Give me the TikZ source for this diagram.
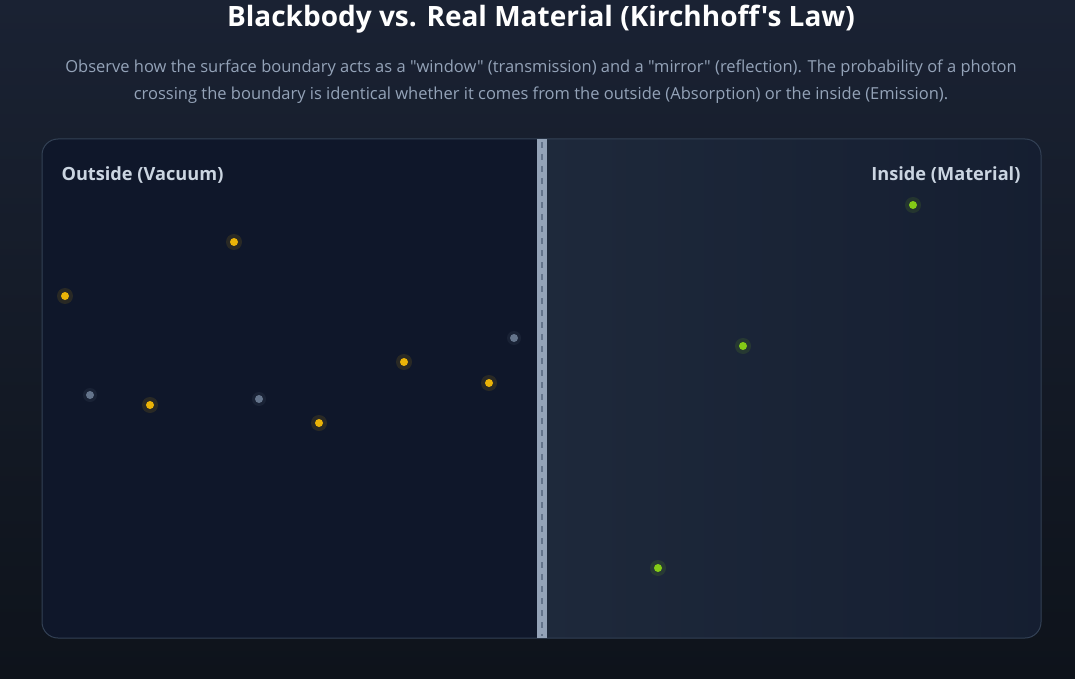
\documentclass[tikz,border=0pt]{standalone}
\usepackage{fontspec}
\newfontfamily\uifont{Open Sans}
\usetikzlibrary{positioning}
\definecolor{bgtop}{HTML}{1A2233}
\definecolor{bgbot}{HTML}{0E131B}
\definecolor{vacuum}{HTML}{0F172A}
\definecolor{material}{HTML}{1E293B}
\definecolor{rim}{HTML}{334155}
\definecolor{wall}{HTML}{94A3B8}
\definecolor{wallmark}{HTML}{64748B}
\definecolor{subtext}{HTML}{94A3B8}
\definecolor{sidetext}{HTML}{CBD5E1}
\definecolor{hot}{HTML}{EAB308}
\definecolor{cold}{HTML}{64748B}
\definecolor{emit}{HTML}{84CC16}
\begin{document}
\begin{tikzpicture}[x=1pt,y=-1pt,
		title/.style={font=\uifont\fontsize{28}{32}\selectfont\bfseries,text=white},
		sub text/.style={font=\uifont\fontsize{16.5}{27}\selectfont,text=subtext,align=center},
		side label/.style={font=\uifont\fontsize{18.2}{20}\selectfont\bfseries,text=sidetext},
		photon/.style={circle,inner sep=0pt,minimum size=8pt},
		yellow photon/.style={photon,fill=hot},
		grey photon/.style={photon,fill=cold},
		green photon/.style={photon,fill=emit}]
		
		% page and panel
		\shade[top color=bgtop,bottom color=bgbot] (0,0) rectangle (1075,679);
		\useasboundingbox (0,0) rectangle (1075,679);
		\begin{scope}
			\clip[rounded corners=16pt] (42,139) rectangle (1041,638);
			\fill[vacuum] (42,139) rectangle (542,638);
			\shade[left color=material,right color=vacuum!60!material] (542,139) rectangle (1041,638);
		\end{scope}
		\draw[rim,line width=1pt,rounded corners=16pt] (42,139) rectangle (1041,638);
		
		% boundary
		\fill[wall] (537,139) rectangle (547,638);
		\draw[wallmark,line width=2pt,dash pattern=on 6pt off 6pt] (542,142) -- (542,636);
		
		% texts
		\node[title] (head) at (541,19) {Blackbody vs. Real Material (Kirchhoff's Law)};
		\node[sub text] (note) at (541,82) {Observe how the surface boundary acts as a "window" (transmission) and a "mirror" (reflection). The probability of a photon\\crossing the boundary is identical whether it comes from the outside (Absorption) or the inside (Emission).};
		\node[side label,anchor=west] (outside) at (58,175) {Outside (Vacuum)};
		\node[side label,anchor=east] (inside) at (1024,175) {Inside (Material)};
		
		% photons
		\foreach \px/\py [count=\i] in {65/296,234/242,150/405,319/423,404/362,489/383}
			{\fill[hot,opacity=0.12] (\px,\py) circle (8pt);
			\node[yellow photon] (y\i) at (\px,\py) {};}
		\foreach \px/\py [count=\i] in {90/395,259/399,514/338}
			{\fill[cold,opacity=0.12] (\px,\py) circle (7pt);
			\node[grey photon] (g\i) at (\px,\py) {};}
		\foreach \px/\py [count=\i] in {913/205,743/346,658/568}
			{\fill[emit,opacity=0.12] (\px,\py) circle (8pt);
			\node[green photon] (e\i) at (\px,\py) {};}
\end{tikzpicture}
\end{document}
